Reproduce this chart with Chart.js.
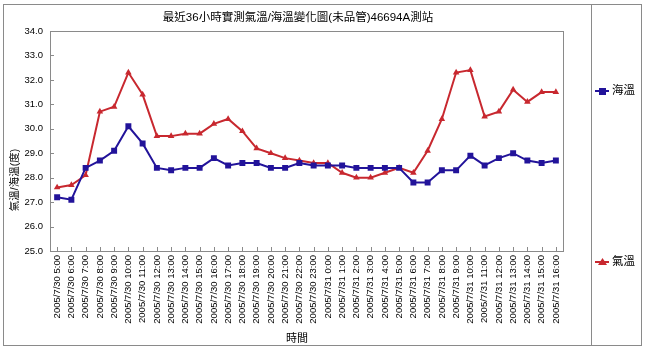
<!DOCTYPE html>
<html>
<head>
<meta charset="utf-8">
<script src="https://cdn.jsdelivr.net/npm/chart.js@4.4.0/dist/chart.umd.min.js"></script>
<style>
  html, body { margin: 0; padding: 0; background: #fff; }
  canvas { display: block; }
</style>
</head>
<body>
<canvas id="c" width="645" height="352" style="width:645px;height:352px"></canvas>
<script>
const categories = [
  "2005/7/30 5:00","2005/7/30 6:00","2005/7/30 7:00","2005/7/30 8:00","2005/7/30 9:00",
  "2005/7/30 10:00","2005/7/30 11:00","2005/7/30 12:00","2005/7/30 13:00","2005/7/30 14:00",
  "2005/7/30 15:00","2005/7/30 16:00","2005/7/30 17:00","2005/7/30 18:00","2005/7/30 19:00",
  "2005/7/30 20:00","2005/7/30 21:00","2005/7/30 22:00","2005/7/30 23:00",
  "2005/7/31 0:00","2005/7/31 1:00","2005/7/31 2:00","2005/7/31 3:00","2005/7/31 4:00",
  "2005/7/31 5:00","2005/7/31 6:00","2005/7/31 7:00","2005/7/31 8:00","2005/7/31 9:00",
  "2005/7/31 10:00","2005/7/31 11:00","2005/7/31 12:00","2005/7/31 13:00","2005/7/31 14:00",
  "2005/7/31 15:00","2005/7/31 16:00"
];
const seaTemp = [
  27.2, 27.1, 28.4, 28.7, 29.1, 30.1, 29.4, 28.4, 28.3, 28.4,
  28.4, 28.8, 28.5, 28.6, 28.6, 28.4, 28.4, 28.6, 28.5,
  28.5, 28.5, 28.4, 28.4, 28.4, 28.4, 27.8, 27.8, 28.3, 28.3,
  28.9, 28.5, 28.8, 29.0, 28.7, 28.6, 28.7
];
const airTemp = [
  27.6, 27.7, 28.1, 30.7, 30.9, 32.3, 31.4, 29.7, 29.7, 29.8,
  29.8, 30.2, 30.4, 29.9, 29.2, 29.0, 28.8, 28.7, 28.6,
  28.6, 28.2, 28.0, 28.0, 28.2, 28.4, 28.2, 29.1, 30.4, 32.3,
  32.4, 30.5, 30.7, 31.6, 31.1, 31.5, 31.5
];
const seriesNames = ["海溫", "氣溫"];
const yMin = 25, yMax = 34, yStep = 1;
const titleText = "最近36小時實測氣溫/海溫變化圖(未品管)46694A測站";
const yTitle = "氣溫/海溫(度)";
const xTitle = "時間";

const BLUE = "#22139a";
const RED = "#c8282f";
const GRAY = "#8a8a8a";
const FONT = "'Liberation Sans', 'Noto Sans CJK TC', sans-serif";

const decor = {
  id: "decor",
  afterDraw(chart) {
    const ctx = chart.ctx;
    const a = chart.chartArea;
    const xs = chart.scales.x, ys = chart.scales.y;
    ctx.save();
    ctx.strokeStyle = GRAY;
    ctx.lineWidth = 1;
    // outer border and legend box
    ctx.strokeRect(3.5, 4.5, 638, 341);
    ctx.beginPath();
    ctx.moveTo(591.5, 4.5); ctx.lineTo(591.5, 345.5);
    ctx.stroke();
    // plot area border
    ctx.strokeRect(Math.round(a.left) + 0.5, Math.round(a.top) + 0.5,
                   Math.round(a.right - a.left), Math.round(a.bottom - a.top));
    // inward tick marks
    ctx.beginPath();
    for (let v = yMin; v <= yMax; v += yStep) {
      const y = Math.round(ys.getPixelForValue(v)) + 0.5;
      ctx.moveTo(a.left, y); ctx.lineTo(a.left + 4, y);
    }
    for (let i = 0; i < categories.length; i++) {
      const x = Math.round(xs.getPixelForValue(i)) + 0.5;
      ctx.moveTo(x, a.bottom); ctx.lineTo(x, a.bottom - 4);
    }
    ctx.stroke();

    ctx.fillStyle = "#000";
    // title
    ctx.font = "11.5px " + FONT;
    ctx.textAlign = "center";
    ctx.textBaseline = "middle";
    ctx.fillText(titleText, 298, 18);
    // x title
    ctx.font = "11px " + FONT;
    ctx.fillText(xTitle, 297, 339);
    // y title
    ctx.save();
    ctx.translate(15, 180);
    ctx.rotate(-Math.PI / 2);
    ctx.font = "10.5px " + FONT;
    ctx.fillText(yTitle, 0, 0);
    ctx.restore();

    // legend
    const items = [
      { name: seriesNames[0], color: BLUE, style: "rect", y: 91 },
      { name: seriesNames[1], color: RED, style: "triangle", y: 262 }
    ];
    items.forEach(it => {
      ctx.strokeStyle = it.color;
      ctx.fillStyle = it.color;
      ctx.lineWidth = 2;
      ctx.beginPath();
      ctx.moveTo(595, it.y); ctx.lineTo(609, it.y);
      ctx.stroke();
      ctx.beginPath();
      if (it.style === "rect") {
        ctx.rect(599, it.y - 3, 7, 7);
      } else {
        ctx.moveTo(602.5, it.y - 4);
        ctx.lineTo(607, it.y + 3);
        ctx.lineTo(598, it.y + 3);
        ctx.closePath();
      }
      ctx.fill();
      ctx.fillStyle = "#000";
      ctx.font = "11.5px " + FONT;
      ctx.textAlign = "left";
      ctx.textBaseline = "middle";
      ctx.fillText(it.name, 612, it.y);
    });
    ctx.restore();
  }
};

new Chart(document.getElementById("c"), {
  type: "line",
  data: {
    labels: categories,
    datasets: [
      {
        label: seriesNames[0], data: seaTemp,
        borderColor: BLUE, backgroundColor: BLUE, borderWidth: 2,
        pointStyle: "rect", pointRadius: 4.2, pointBorderWidth: 0,
        tension: 0, fill: false
      },
      {
        label: seriesNames[1], data: airTemp,
        borderColor: RED, backgroundColor: RED, borderWidth: 2,
        pointStyle: "triangle", pointRadius: 3.8, pointBorderWidth: 0,
        tension: 0, fill: false
      }
    ]
  },
  options: {
    responsive: false,
    animation: false,
    devicePixelRatio: 1,
    layout: { padding: { left: 0, top: 31, right: 82, bottom: 0 } },
    plugins: { legend: { display: false }, title: { display: false }, tooltip: { enabled: false } },
    scales: {
      x: {
        offset: true,
        grid: { display: false, drawTicks: false },
        border: { display: false },
        ticks: {
          autoSkip: false, minRotation: 90, maxRotation: 90,
          color: "#000", padding: 4,
          font: { family: FONT, size: 9.5 }
        },
        afterFit(s) { s.height = 101; }
      },
      y: {
        min: yMin, max: yMax,
        grid: { display: false, drawTicks: false },
        border: { display: false },
        ticks: {
          stepSize: yStep, color: "#000", padding: 7,
          font: { family: FONT, size: 9.5 },
          callback: v => Number(v).toFixed(1)
        },
        afterFit(s) { s.width = 50; }
      }
    }
  },
  plugins: [decor]
});
</script>
</body>
</html>
